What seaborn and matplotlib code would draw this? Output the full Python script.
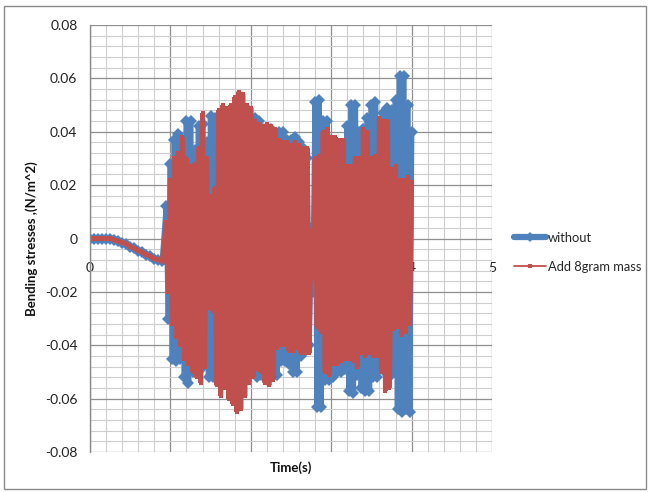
import numpy as np
import pandas as pd
import matplotlib
matplotlib.use("Agg")
import matplotlib.pyplot as plt
from matplotlib.lines import Line2D
from matplotlib.patches import Rectangle
from matplotlib.ticker import MultipleLocator, FixedLocator, FixedFormatter
import seaborn as sns

# ---------------- data ----------------
series_names = ["without", "Add 8gram mass"]

# slow drift before the excitation starts (t = 0 ... 0.9 s, every 0.05 s)
lead_time = [0.0, 0.05, 0.1, 0.15, 0.2, 0.25, 0.3, 0.35, 0.4, 0.45,
             0.5, 0.55, 0.6, 0.65, 0.7, 0.75, 0.8, 0.85, 0.9]
without_lead = [0.0, 0.0, 0.0, 0.0, 0.0, 0.0, -0.0005, -0.001, -0.0015, -0.002,
                -0.003, -0.0037, -0.0045, -0.0052, -0.006, -0.0067, -0.0075, -0.008, -0.0085]
add8_lead = [0.0, 0.0, 0.0, 0.0, 0.0, 0.0, -0.0005, -0.001, -0.0015, -0.002,
             -0.003, -0.0037, -0.0045, -0.0052, -0.006, -0.0067, -0.0075, -0.008, -0.0085]

# oscillation crests, every 0.05 s from 0.95 s to 4.00 s
without_crest = [
    0.012, 0.028, 0.037, 0.039, 0.031, 0.044, 0.044, 0.033, 0.042, 0.043,
    0.036, 0.046, 0.045, 0.040, 0.042, 0.039, 0.042, 0.040, 0.041, 0.043,
    0.045, 0.044, 0.045, 0.044, 0.041, 0.040, 0.041, 0.039, 0.040, 0.040,
    0.037, 0.037, 0.038, 0.036, 0.034, 0.030, 0.004, 0.051, 0.052, 0.044,
    0.044, 0.037, 0.036, 0.035, 0.034, 0.042, 0.050, 0.050, 0.040, 0.041,
    0.045, 0.050, 0.051, 0.043, 0.047, 0.049, 0.048, 0.052, 0.061, 0.061,
    0.050, 0.040,
]
# oscillation troughs, every 0.05 s from 0.975 s to 3.975 s
without_trough = [
    -0.030, -0.045, -0.046, -0.045, -0.052, -0.054, -0.050, -0.046, -0.049, -0.045,
    -0.052, -0.052, -0.050, -0.048, -0.050, -0.049, -0.050, -0.049, -0.050, -0.050,
    -0.049, -0.050, -0.052, -0.051, -0.046, -0.050, -0.051, -0.051, -0.046, -0.046,
    -0.047, -0.050, -0.050, -0.044, -0.042, -0.040, -0.020, -0.063, -0.063, -0.053,
    -0.053, -0.052, -0.050, -0.050, -0.049, -0.057, -0.058, -0.051, -0.056, -0.057,
    -0.057, -0.052, -0.052, -0.048, -0.050, -0.052, -0.050, -0.064, -0.065, -0.064,
    -0.065,
]
add8_crest = [
    0.006, 0.022, 0.030, 0.032, 0.038, 0.030, 0.027, 0.028, 0.034, 0.047,
    0.030, 0.016, 0.019, 0.048, 0.050, 0.049, 0.050, 0.053, 0.055, 0.054,
    0.050, 0.049, 0.044, 0.043, 0.042, 0.043, 0.042, 0.041, 0.037, 0.036,
    0.036, 0.035, 0.036, 0.035, 0.034, 0.034, 0.003, 0.030, 0.031, 0.040,
    0.041, 0.038, 0.038, 0.037, 0.037, 0.027, 0.027, 0.030, 0.030, 0.041,
    0.040, 0.030, 0.031, 0.045, 0.044, 0.044, 0.026, 0.027, 0.022, 0.022,
    0.023, 0.021,
]
add8_trough = [
    -0.020, -0.032, -0.037, -0.040, -0.045, -0.047, -0.050, -0.052, -0.054, -0.048,
    -0.026, -0.027, -0.055, -0.059, -0.056, -0.060, -0.062, -0.065, -0.064, -0.059,
    -0.054, -0.052, -0.049, -0.050, -0.054, -0.055, -0.053, -0.041, -0.040, -0.040,
    -0.042, -0.042, -0.041, -0.043, -0.043, -0.043, -0.015, -0.033, -0.035, -0.050,
    -0.051, -0.047, -0.047, -0.046, -0.045, -0.045, -0.046, -0.048, -0.043, -0.044,
    -0.043, -0.044, -0.044, -0.050, -0.057, -0.056, -0.034, -0.033, -0.036, -0.035,
    -0.032,
]

xtick_values = [0, 1, 2, 3, 4, 5]
xtick_labels = ["0", "1", "2", "3", "4", "5"]
ytick_values = [0.08, 0.06, 0.04, 0.02, 0.0, -0.02, -0.04, -0.06, -0.08]
ytick_labels = ["0.08", "0.06", "0.04", "0.02", "0", "-0.02", "-0.04", "-0.06", "-0.08"]


def build_series(lead_t, lead_v, crest, trough):
    crest_t = 0.95 + 0.05 * np.arange(len(crest))
    trough_t = 0.975 + 0.05 * np.arange(len(trough))
    t, v = list(lead_t), list(lead_v)
    for i in range(len(crest)):
        t.append(crest_t[i]); v.append(crest[i])
        if i < len(trough):
            t.append(trough_t[i]); v.append(trough[i])
    return np.array(t), np.array(v)


t_w, v_w = build_series(lead_time, without_lead, without_crest, without_trough)
t_a, v_a = build_series(lead_time, add8_lead, add8_crest, add8_trough)
df = pd.concat([
    pd.DataFrame({"time": t_w, "stress": v_w, "series": series_names[0]}),
    pd.DataFrame({"time": t_a, "stress": v_a, "series": series_names[1]}),
])

# ---------------- style ----------------
sns.set_theme(style="white")
plt.rcParams["font.family"] = ["Lato", "DejaVu Sans"]
plt.rcParams["path.simplify"] = False

blue = "#4F81BD"
red = "#C0504D"
fs = 9.5

fig = plt.figure(figsize=(6.5, 4.92), dpi=100)
ax = fig.add_axes([90 / 650, 1 - 452 / 492, 402 / 650, 427 / 492])

# outer chart frame
fig.patches.append(Rectangle((4 / 650, 3 / 492), 642 / 650, 483 / 492,
                             transform=fig.transFigure, fill=False,
                             edgecolor="#8a8a8a", linewidth=1.0))

ax.set_xlim(0, 5)
ax.set_ylim(-0.08, 0.08)

# grid
ax.xaxis.set_major_locator(FixedLocator(xtick_values))
ax.xaxis.set_minor_locator(MultipleLocator(0.2))
ax.yaxis.set_major_locator(FixedLocator(ytick_values))
ax.yaxis.set_minor_locator(MultipleLocator(0.004))
ax.grid(which="major", color="#8f8f8f", linewidth=0.9)
ax.grid(which="minor", color="#cdcdcd", linewidth=0.8)
ax.set_axisbelow(True)

for s in ["top", "right"]:
    ax.spines[s].set_visible(False)
ax.spines["left"].set_color("#8a8a8a")
ax.spines["left"].set_linewidth(1.0)
ax.spines["bottom"].set_position(("data", 0))
ax.spines["bottom"].set_visible(False)

ax.xaxis.set_major_formatter(FixedFormatter(xtick_labels))
ax.yaxis.set_major_formatter(FixedFormatter(ytick_labels))
ax.tick_params(axis="x", which="both", length=0, pad=17, labelsize=fs + 0.5, colors="#222222")
ax.tick_params(axis="y", which="both", length=0, pad=9, labelsize=fs + 0.5, colors="#222222")
ax.tick_params(axis="x", which="minor", labelbottom=False)

# series: red trace drawn over the blue one
sns.lineplot(data=df[df.series == series_names[0]], x="time", y="stress", sort=False,
             estimator=None, ax=ax, color=blue, lw=4.0, solid_joinstyle="miter",
             marker="D", markersize=5.8, markeredgewidth=0, legend=False)
sns.lineplot(data=df[df.series == series_names[1]], x="time", y="stress", sort=False,
             estimator=None, ax=ax, color=red, lw=3.6, solid_joinstyle="miter",
             marker="s", markersize=3.0, markeredgewidth=0, legend=False)

ax.set_xlabel("")
ax.set_ylabel("Bending stresses ,(N/m^2)", fontsize=fs, fontweight="bold",
              color="#111111", labelpad=5)
ax.text(0.5, -0.036, "Time(s)", transform=ax.transAxes, ha="center", va="center",
        fontsize=fs, fontweight="bold", color="#111111")

handles = [
    Line2D([], [], color=blue, linewidth=4.5, marker="D", markersize=5, markeredgewidth=0),
    Line2D([], [], color=red, linewidth=1.3, marker="s", markersize=2.6, markeredgewidth=0),
]
ax.legend(handles, series_names, loc="center left", bbox_to_anchor=(1.055, 0.468),
          frameon=False, borderaxespad=0, borderpad=0, handlelength=2.5,
          handletextpad=0.1, labelspacing=1.3, numpoints=1, fontsize=9.3)

fig.savefig("out.png", dpi=100)
